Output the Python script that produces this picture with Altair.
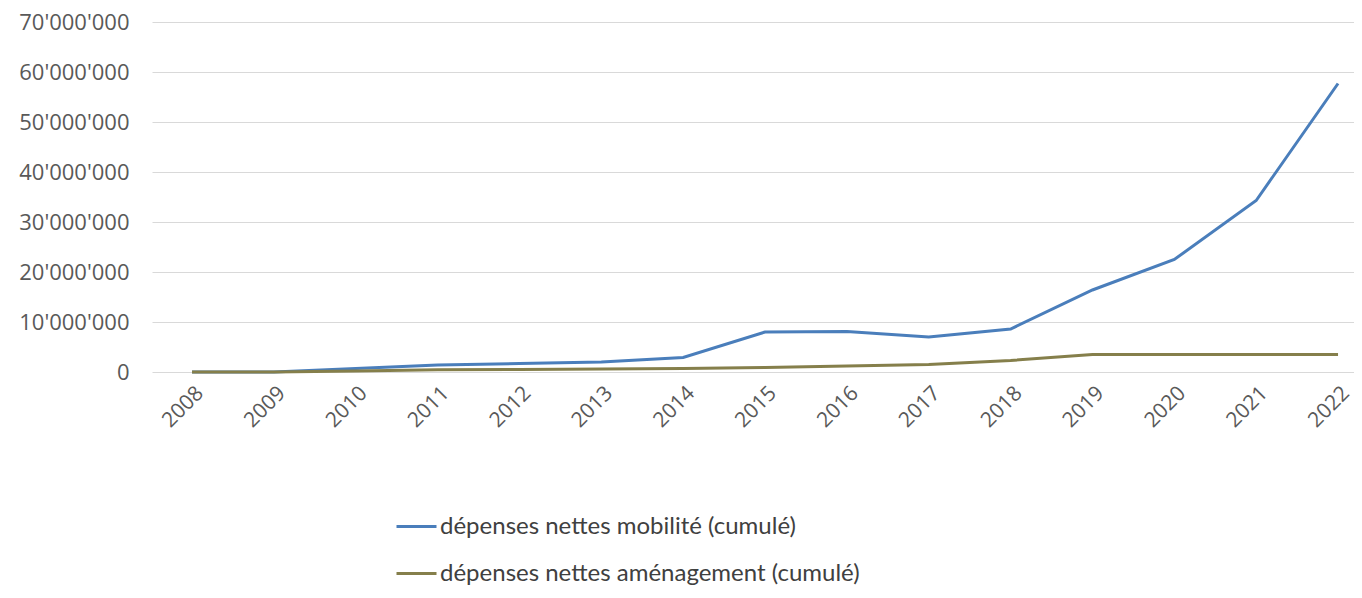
import altair as alt
import pandas as pd

years = list(range(2008, 2023))
mobilite = [0, 0, 700000, 1400000, 1700000, 2000000, 2900000, 8000000, 8100000,
            7000000, 8600000, 16400000, 22500000, 34300000, 57700000]
amenagement = [0, 0, 200000, 450000, 500000, 600000, 700000, 900000, 1200000,
               1500000, 2300000, 3500000, 3500000, 3500000, 3500000]
series_names = ["dépenses nettes mobilité (cumulé)", "dépenses nettes aménagement (cumulé)"]
colors = ["#4A7EBB", "#857F4B"]
y_ticks = [0, 10000000, 20000000, 30000000, 40000000, 50000000, 60000000, 70000000]

rows = []
for i, y in enumerate(years):
    rows.append({"year": y, "value": mobilite[i], "series": series_names[0]})
    rows.append({"year": y, "value": amenagement[i], "series": series_names[1]})
df = pd.DataFrame(rows)

chart = alt.Chart(df).mark_line(strokeWidth=3).encode(
    x=alt.X("year:Q",
            scale=alt.Scale(domain=[2007.511, 2022.195], nice=False, zero=False),
            axis=alt.Axis(title=None, labelAngle=-45, domain=False, ticks=False,
                          values=years, format="d",
                          labelFont="Open Sans", labelFontSize=21, labelColor="#595959",
                          labelPadding=10, grid=False, labelFlush=False, labelOverlap=False,
                          labelAlign="right", labelBaseline="top")),
    y=alt.Y("value:Q", scale=alt.Scale(domain=[0, 70000000], nice=False),
            axis=alt.Axis(title=None, values=y_ticks, domain=False, ticks=False,
                          labelFont="Open Sans", labelFontSize=22, labelColor="#595959",
                          labelPadding=23, gridColor="#D9D9D9", gridWidth=1,
                          labelExpr="replace(replace(format(datum.value, ','), ',', \"'\"), ',', \"'\")")),
    color=alt.Color("series:N", sort=series_names,
                    scale=alt.Scale(domain=series_names, range=colors),
                    legend=alt.Legend(title=None, orient="none", legendX=243, legendY=483,
                                      direction="vertical", symbolType="stroke",
                                      symbolSize=1600, symbolStrokeWidth=3,
                                      labelFont="Lato", labelFontSize=24, labelColor="#404040",
                                      labelOffset=2, rowPadding=13, labelLimit=700)),
).properties(
    width=1202, height=350,
    autosize=alt.AutoSizeParams(type="none"),
    padding={"left": 144, "top": 14, "right": 0, "bottom": 218},
).configure_view(stroke=None)

chart.save("out.html", embed_options={"renderer": "svg", "actions": False})
